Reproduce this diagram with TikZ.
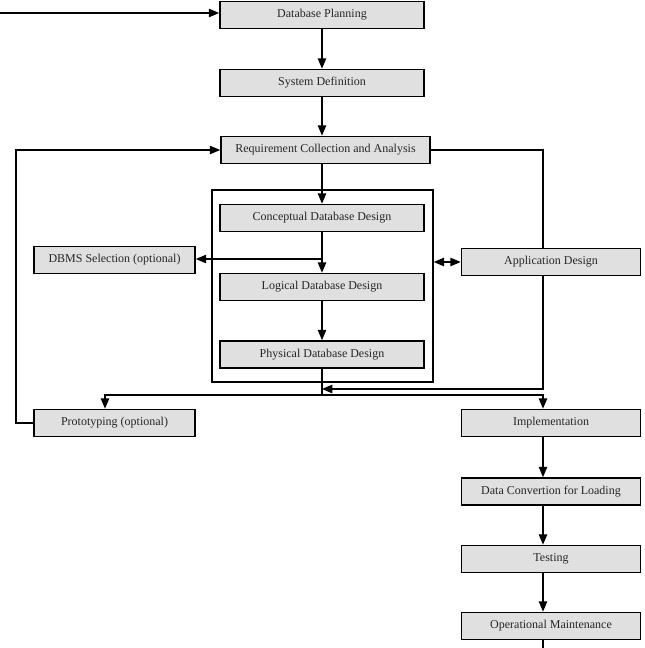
\documentclass[tikz,border=0pt]{standalone}
\usepackage{fontspec}
\setmainfont{Liberation Serif}
\usetikzlibrary{arrows,calc,positioning}
\tikzset{
>=triangle 45, % filled heads on every connector
stage/.style={draw, line width=1.7pt, fill=black!12, minimum height=27pt,
  inner sep=1pt, text=black!85, font=\fontsize{12}{14}\selectfont},
midbox/.style={stage, minimum width=204pt},
leftbox/.style={stage, minimum width=161pt},
rightbox/.style={stage, minimum width=179pt},
link/.style={line width=1.4pt},
}

\begin{document}
\begin{tikzpicture}[x=1pt,y=-1pt]
  \useasboundingbox (0,0) rectangle (645,648);

  % main column
  \node[midbox] (plan) at (322,15) {Database Planning};
  \node[midbox] (sysdef) at (322,83) {System Definition};
  \node[stage, minimum width=209pt] (req) at (325.5,150) {Requirement Collection and Analysis};

  % design phase
  \node[draw, line width=1.5pt, minimum width=221pt, minimum height=192pt] (design) at (322.5,286) {};
  \node[midbox] (concept) at (322,218) {Conceptual Database Design};
  \node[midbox] (logical) at (322,287) {Logical Database Design};
  \node[midbox] (physical) at (322,354.5) {Physical Database Design};

  % side activities
  \node[leftbox] (dbms) at (114.5,260) {DBMS Selection (optional)};
  \node[rightbox] (appdesign) at (551,262) {Application Design};
  \node[leftbox] (proto) at (114.5,423) {Prototyping (optional)};

  % right column
  \node[rightbox] (impl) at (551,423) {Implementation};
  \node[rightbox] (convert) at (551,491.5) {Data Convertion for Loading};
  \node[rightbox] (testing) at (551,559) {Testing};
  \node[rightbox] (maint) at (551,626) {Operational Maintenance};

  % helper points for the rails
  \coordinate (entry) at (0,13);
  \coordinate (exit) at (543,648);
  \coordinate (rrail) at (543,150);
  \coordinate (lrail) at (105,395);
  \coordinate (lloop) at (16,423);
  \coordinate (split) at (322,259);
  \coordinate (merge) at (322,389);
  \coordinate (fork) at (322,395);

  \draw[link,->] (entry) -- (entry -| plan.west);
  \draw[link,->] (plan) -- (sysdef);
  \draw[link,->] (sysdef.south) -- (sysdef.south |- req.north);
  \draw[link,->] (req.south -| concept) -- (concept.north);
  \draw[link,->] (concept) -- (logical);
  \draw[link,->] (split) -- (split -| dbms.east);
  \draw[link,->] (logical) -- (physical);
  \draw[link,<->] (design.east |- appdesign) -- (appdesign.west);

  % loops round the design phase
  \draw[link] (req.east) -- (rrail) -- (rrail |- appdesign.north);
  \draw[link,->] (appdesign.south -| rrail) -- (rrail |- merge) -- (merge);
  \draw[link] (physical.south) -- (fork);
  \draw[link,->] (fork) -- (lrail) -- (lrail |- proto.north);
  \draw[link,->] (fork) -- (fork -| rrail) -- (rrail |- impl.north);
  \draw[link,->] (proto.west) -- (lloop) -- (lloop |- req.west) -- (req.west);

  \draw[link,->] (impl.south -| rrail) -- (rrail |- convert.north);
  \draw[link,->] (convert.south -| rrail) -- (rrail |- testing.north);
  \draw[link,->] (testing.south -| rrail) -- (rrail |- maint.north);
  \draw[link] (maint.south -| rrail) -- (exit);
\end{tikzpicture}
\end{document}
